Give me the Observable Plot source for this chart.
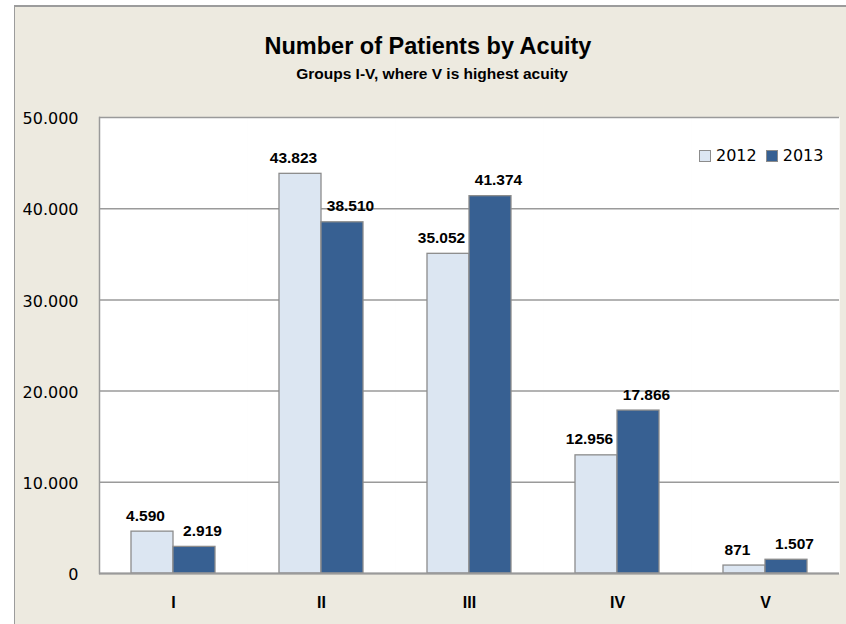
<!DOCTYPE html>
<html>
<head>
<meta charset="utf-8">
<script src="https://cdn.jsdelivr.net/npm/d3@7"></script>
<script src="https://cdn.jsdelivr.net/npm/@observablehq/plot@0.6"></script>
<style>
  html, body { margin: 0; padding: 0; background: #ffffff; }
  #page { position: relative; width: 846px; height: 624px; overflow: hidden; }
  #box { position: absolute; left: 14px; top: 5px; width: 860px; height: 640px;
         background: #EDEAE0; border-left: 1.5px solid #9c9c9c; border-top: 2px solid #9c9c9c; }
  #chart { position: absolute; left: 0; top: 0; }
  .title { position: absolute; left: 0; width: 856px; text-align: center;
           font-family: "Liberation Sans", Arial, sans-serif; font-weight: bold; color: #000; white-space: nowrap; }
  #t1 { top: 35px; font-size: 23.5px; line-height: 23.5px; }
  #t2 { top: 66px; left: 4px; font-size: 15.5px; line-height: 15.5px; }
  #legend { position: absolute; left: 699px; top: 148px; display: flex; align-items: center;
            font-family: "DejaVu Sans", sans-serif; font-size: 16px; line-height: 16px; color: #000; }
  .sw { width: 10px; height: 10px; border: 1.5px solid #8c8c8c; margin-right: 5px; }
  .item { display: flex; align-items: center; margin-right: 9px; }
</style>
</head>
<body>
<div id="page">
  <div id="box"></div>
  <div id="chart"></div>
  <div class="title" id="t1">Number of Patients by Acuity</div>
  <div class="title" id="t2">Groups I-V, where V is highest acuity</div>
  <div id="legend"></div>
</div>
<script>
const categories = ["I", "II", "III", "IV", "V"];
const years = ["2012", "2013"];
const values2012 = [4590, 43823, 35052, 12956, 871];
const values2013 = [2919, 38510, 41374, 17866, 1507];
const yTicks = [0, 10000, 20000, 30000, 40000, 50000];
const colors = ["#DCE6F2", "#376092"];

const fmt = d3.formatLocale({decimal: ",", thousands: ".", grouping: [3], currency: ["", "€"]}).format(",");

const data = categories.flatMap((c, i) => [
  {cat: c, year: years[0], value: values2012[i]},
  {cat: c, year: years[1], value: values2013[i]}
]);

const plot = Plot.plot({
  width: 846,
  height: 624,
  marginLeft: 97,
  marginRight: 5,
  marginTop: 117,
  marginBottom: 51,
  style: {background: "transparent", fontFamily: "Liberation Sans, Arial, sans-serif", color: "#000"},
  fx: {domain: categories, padding: 0, label: null},
  x: {domain: years, paddingInner: 0, paddingOuter: 0.728, axis: null},
  y: {domain: [0, 50000], label: null},
  color: {domain: years, range: colors},
  marks: [
    Plot.frame({fill: "white", stroke: "white", strokeWidth: 0.5}),
    Plot.gridY(yTicks, {stroke: "#9a9a9a", strokeOpacity: 1, strokeWidth: 1.5}),
    Plot.frame({anchor: "left", stroke: "#9a9a9a", strokeWidth: 1.5, facetAnchor: "left"}),
    Plot.barY(data, {fx: "cat", x: "year", y: "value", fill: "year", stroke: "#8c8c8c", strokeWidth: 1.3}),
    Plot.ruleY([0], {stroke: "#9a9a9a", strokeWidth: 2}),
    Plot.text(data.filter(d => d.year === years[0]), {fx: "cat", x: "year", y: "value", text: d => fmt(d.value),
      dy: -16, dx: -7, fontWeight: "bold", fontSize: 15.5, fill: "#000"}),
    Plot.text(data.filter(d => d.year === years[1]), {fx: "cat", x: "year", y: "value", text: d => fmt(d.value),
      dy: -16, dx: 8, fontWeight: "bold", fontSize: 15.5, fill: "#000"}),
    Plot.axisY(yTicks, {tickSize: 0, tickPadding: 21, fontSize: 16, fontFamily: "DejaVu Sans, sans-serif",
      tickFormat: fmt, label: null, dy: 1.5}),
    Plot.axisFx({anchor: "bottom", tickSize: 0, tickPadding: 23, fontSize: 16, fontWeight: "bold", label: null})
  ]
});
document.getElementById("chart").appendChild(plot);

const legend = document.getElementById("legend");
years.forEach((y, i) => {
  const item = document.createElement("div");
  item.className = "item";
  const sw = document.createElement("div");
  sw.className = "sw";
  sw.style.background = colors[i];
  const lab = document.createElement("span");
  lab.textContent = y;
  item.appendChild(sw);
  item.appendChild(lab);
  legend.appendChild(item);
});
</script>
</body>
</html>
